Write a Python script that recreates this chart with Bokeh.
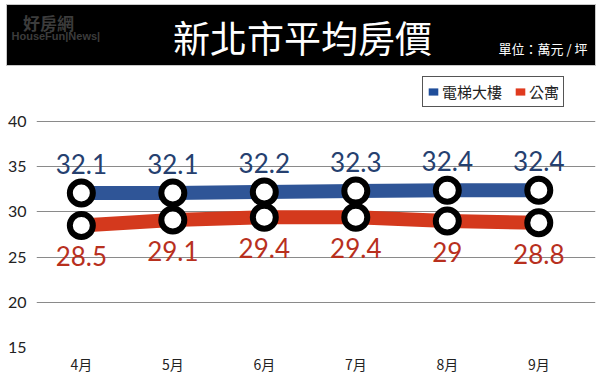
from bokeh.plotting import figure
from bokeh.models import Range1d, FixedTicker, Legend, LegendItem
from bokeh.core.properties import value
from bokeh.embed import file_html
from bokeh.resources import INLINE

months = ["4月", "5月", "6月", "7月", "8月", "9月"]
elevator = [32.1, 32.1, 32.2, 32.3, 32.4, 32.4]
apartment = [28.5, 29.1, 29.4, 29.4, 29.0, 28.8]
series_names = ["電梯大樓", "公寓"]
y_ticks = [15, 20, 25, 30, 35, 40]
title_text = "新北市平均房價"
unit_text = "單位：萬元 / 坪"

BLUE = "#2F5597"
RED = "#D4391D"
BLUE_TXT = "#25406F"
RED_TXT = "#B8301E"
CJK = "Noto Sans CJK TC"
NUM = "Lato"

# ---------- header (separate root, frame = whole canvas, page pixel coords) ----------
hdr = figure(width=600, height=70, x_range=Range1d(0, 600), y_range=Range1d(70, 0),
             toolbar_location=None, output_backend="svg", min_border=0,
             min_border_left=0, min_border_right=0, min_border_top=0, min_border_bottom=0)
hdr.axis.visible = False
hdr.grid.visible = False
hdr.outline_line_color = None
hdr.background_fill_color = "white"
hdr.border_fill_color = "white"
hdr.quad(left=[6], right=[595], top=[4], bottom=[65], fill_color="black",
         line_color="#c8c8c8", line_width=1)
hdr.text(x=[302], y=[36], text=[title_text], text_color="white", text_font=value(CJK),
         text_font_size="37px", text_align="center", text_baseline="middle")
hdr.text(x=[587], y=[48], text=[unit_text], text_color="white", text_font=value(CJK),
         text_font_size="13px", text_align="right", text_baseline="middle")
hdr.text(x=[48], y=[22], text=["好房網"], text_color="#3c3c3c", text_font=value(CJK),
         text_font_size="17px", text_font_style="bold", text_align="center", text_baseline="middle")
hdr.text(x=[11], y=[35], text=["HouseFun|News|"], text_color="#3c3c3c",
         text_font=value("Liberation Sans"), text_font_size="11px", text_font_style="bold",
         text_align="left", text_baseline="middle")

# ---------- chart ----------
xs = list(range(len(months)))
p = figure(width=600, height=308, x_range=Range1d(-0.49, 5.62), y_range=Range1d(15, 45.09),
           toolbar_location=None, output_backend="svg",
           min_border_left=36, min_border_right=5, min_border_top=5, min_border_bottom=31)
p.outline_line_color = None
p.background_fill_color = "white"
p.border_fill_color = "white"
p.xgrid.visible = False
p.ygrid.ticker = FixedTicker(ticks=y_ticks)
p.ygrid.grid_line_color = "#8a8a8a"
p.ygrid.grid_line_width = 1.2

p.yaxis.ticker = FixedTicker(ticks=y_ticks)
p.xaxis.ticker = FixedTicker(ticks=xs)
p.xaxis.major_label_overrides = {i: m for i, m in enumerate(months)}
for ax in (p.xaxis[0], p.yaxis[0]):
    ax.axis_line_color = None
    ax.major_tick_line_color = None
    ax.minor_tick_line_color = None
    ax.major_tick_out = 0
    ax.major_tick_in = 0
    ax.minor_tick_out = 0
    ax.minor_tick_in = 0
    ax.major_label_text_color = "#222222"
p.yaxis.major_label_text_font = NUM
p.yaxis.major_label_text_font_size = "16px"
p.yaxis.major_label_standoff = 10
p.xaxis.major_label_text_font = CJK
p.xaxis.major_label_text_font_size = "14px"
p.xaxis.major_label_standoff = 6

p.line(xs, elevator, line_color=BLUE, line_width=14)
p.line(xs, apartment, line_color=RED, line_width=14)
p.scatter(xs, elevator, size=23, fill_color="white", line_color="black", line_width=6)
p.scatter(xs, apartment, size=23, fill_color="white", line_color="black", line_width=6)

p.text(xs, elevator, text=[f"{v:g}" for v in elevator], text_color=BLUE_TXT, text_font=value(NUM),
       text_font_size="26px", text_align="center", text_baseline="middle", y_offset=-29)
p.text(xs, apartment, text=[f"{v:g}" for v in apartment], text_color=RED_TXT, text_font=value(NUM),
       text_font_size="26px", text_align="center", text_baseline="middle", y_offset=31)

# legend swatches (off-screen quads)
qb = p.quad(left=[-9], right=[-8], top=[1], bottom=[0], fill_color="#1F4E9A", line_color=None)
qr = p.quad(left=[-9], right=[-8], top=[1], bottom=[0], fill_color="#E03A1E", line_color=None)
legend = Legend(items=[LegendItem(label=series_names[0], renderers=[qb]),
                       LegendItem(label=series_names[1], renderers=[qr])],
                orientation="horizontal", location=(386, 240),
                border_line_color="#555555", border_line_width=1, border_line_alpha=1,
                label_text_font=CJK, label_text_font_size="15px", label_text_color="#222222",
                glyph_width=12, glyph_height=9, label_standoff=3, spacing=12,
                padding=4, margin=0, background_fill_alpha=1)
p.add_layout(legend, "center")

open("out.html", "w").write(file_html([hdr, p], INLINE))
